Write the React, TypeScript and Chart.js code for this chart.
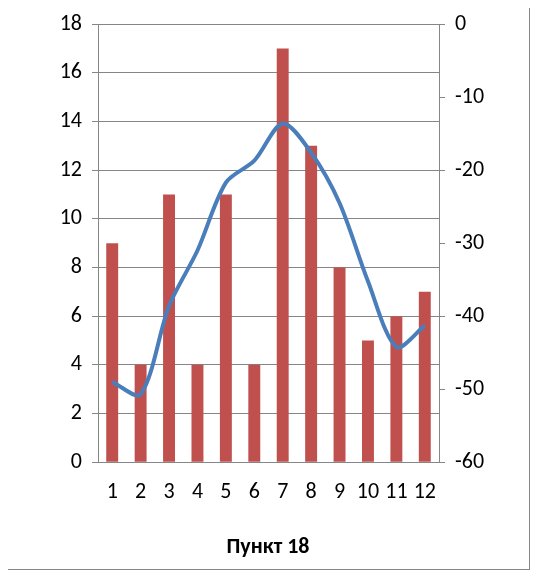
import React, { useEffect, useRef } from "react";
import { Chart, registerables } from "chart.js";
Chart.register(...registerables);

const categories = ["1","2","3","4","5","6","7","8","9","10","11","12"];
const barValues = [9,4,11,4,11,4,17,13,8,5,6,7];
const lineValues = [-49,-50.7,-38.6,-31,-21.7,-18.7,-13.6,-17.6,-24.5,-35.2,-44.2,-41.3];

export default function App() {
  const ref = useRef<HTMLCanvasElement>(null);
  useEffect(() => {
    const font = { family: "Carlito, Calibri, 'Liberation Sans', sans-serif", size: 22 };
    const chart = new Chart(ref.current!, {
      data: {
        labels: categories,
        datasets: [
          { type: "line", data: lineValues, yAxisID: "y2", borderColor: "#4a7ebb", borderWidth: 4, pointRadius: 0, tension: 0.3, order: 0 },
          { type: "bar", data: barValues, yAxisID: "y", backgroundColor: "#c0504d", barPercentage: 0.42, categoryPercentage: 1, order: 1 },
        ],
      },
      options: {
        animation: false,
        responsive: false,
        layout: { padding: { top: 21, bottom: 8, left: 0, right: 0 } },
        plugins: {
          legend: { display: false },
          tooltip: { enabled: false },
          title: { display: true, position: "bottom", text: "Пункт 18", color: "#000", font: { ...font, size: 22, weight: "bold" }, padding: { top: 18, bottom: 0 } },
        },
        scales: {
          x: { grid: { display: false, drawTicks: true, tickLength: 6 }, border: { color: "#868686" }, ticks: { color: "#000", font, padding: 11, maxRotation: 0, autoSkip: false } },
          y: { position: "left", min: 0, max: 18, ticks: { stepSize: 2, color: "#000", font, padding: 10 }, grid: { color: "#868686", tickLength: 6 }, border: { color: "#868686" },
            afterFit: (s: any) => { s.width = 91; } },
          y2: { position: "right", min: -60, max: 0, ticks: { stepSize: 10, color: "#000", font, padding: 10 }, grid: { drawOnChartArea: false, color: "#868686", tickLength: 6 }, border: { color: "#868686" },
            afterFit: (s: any) => { s.width = 90; } },
        },
      },
    } as any);
    return () => chart.destroy();
  }, []);
  return (
    <div style={{ width: 524, height: 570, border: "1px solid #868686", marginLeft: -2, marginTop: -8, boxSizing: "border-box" }}>
      <canvas ref={ref} width={522} height={568} />
    </div>
  );
}
